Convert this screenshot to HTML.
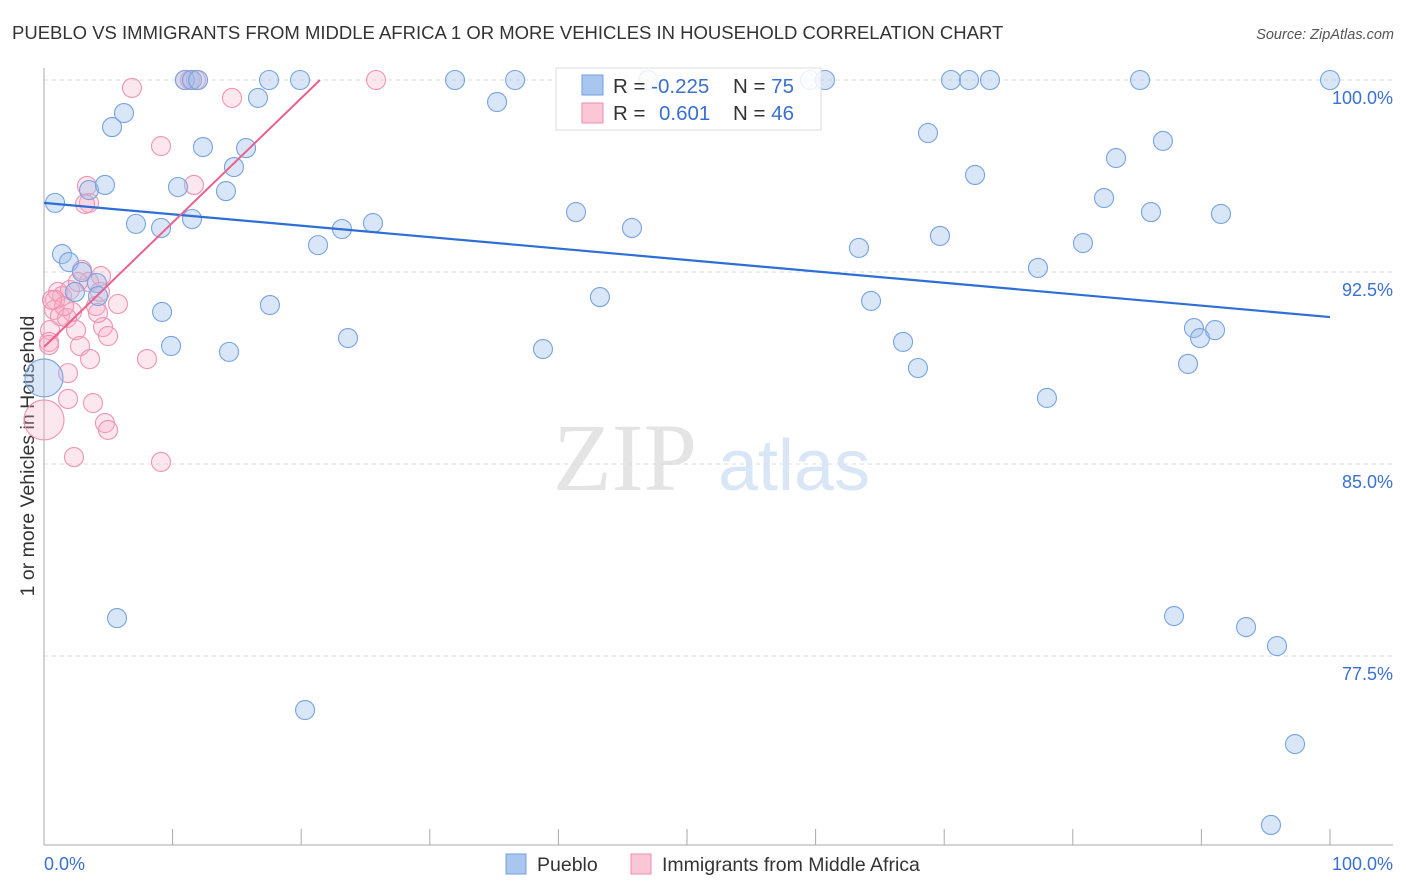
<!DOCTYPE html>
<html><head><meta charset="utf-8"><style>
body{margin:0;background:#fff;font-family:"Liberation Sans",sans-serif}
svg{display:block}
</style></head><body>
<svg id="chart" width="1406" height="892">
<text x="12" y="39" font-size="18.5" fill="#333">PUEBLO VS IMMIGRANTS FROM MIDDLE AFRICA 1 OR MORE VEHICLES IN HOUSEHOLD CORRELATION CHART</text>
<text x="1394" y="39" font-size="14.5" fill="#555" font-style="italic" text-anchor="end">Source: ZipAtlas.com</text>
<text transform="translate(34,456) rotate(-90)" font-size="19.5" fill="#333" text-anchor="middle">1 or more Vehicles in Household</text>
<g>
<text x="553" y="490" font-family="Liberation Serif,serif" font-size="96" fill="#e4e4e4">ZIP</text>
<text x="718" y="490" font-size="72" fill="#d9e6f6">atlas</text>
</g>
<g id="grid"></g><g id="axes"></g><g id="pts"></g><g id="trend"></g>
<g>
<rect x="556" y="68" width="265" height="62" fill="#fff" fill-opacity="0.85" stroke="#ddd"/>
<rect x="582" y="75" width="21" height="20" fill="#a9c6ef" stroke="#6f9fe0"/>
<rect x="582" y="103" width="21" height="20" fill="#fbc6d5" stroke="#ee8fae"/>
<text x="613" y="93" font-size="20.5" fill="#333">R = <tspan fill="#3a70cf">-0.225</tspan></text>
<text x="733" y="93" font-size="20.5" fill="#333">N = <tspan fill="#3a70cf">75</tspan></text>
<text x="613" y="120" font-size="20.5" fill="#333">R = </text>
<text x="659" y="120" font-size="20.5" fill="#3a70cf">0.601</text>
<text x="733" y="120" font-size="20.5" fill="#333">N = <tspan fill="#3a70cf">46</tspan></text>
</g>
<g>
<rect x="506" y="854" width="20" height="20" fill="#a9c6ef" stroke="#6f9fe0"/>
<text x="537" y="871" font-size="19.5" fill="#333">Pueblo</text>
<rect x="631" y="854" width="20" height="20" fill="#fbc6d5" stroke="#ee8fae"/>
<text x="662" y="871" font-size="19.5" fill="#333">Immigrants from Middle Africa</text>
</g>
</svg>
<script>
const yTicks=[100,92.5,85,77.5];
const yTickLabels=["100.0%","92.5%","85.0%","77.5%"];
const xTicks=[0,10,20,30,40,50,60,70,80,90,100];
const blueX=[0.86,1.40,1.94,2.41,2.95,3.50,4.12,4.20,4.74,5.29,6.22,7.15,9.10,9.18,9.88,10.42,10.96,11.51,11.98,11.51,12.36,14.15,14.39,14.77,15.71,16.64,17.50,17.57,19.91,20.30,21.31,23.17,23.64,25.58,31.96,35.23,36.63,38.80,41.37,43.23,45.72,46.97,59.56,60.73,63.37,64.31,66.80,67.96,68.74,69.67,70.53,71.93,72.40,73.56,77.29,77.99,80.79,82.43,83.36,85.23,86.08,87.01,87.87,88.96,89.42,89.89,91.06,91.52,93.47,95.88,97.28,95.41,100,5.68,0];
const blueY=[95.20,93.20,92.89,91.72,92.50,95.70,92.07,91.56,95.90,98.16,98.71,94.38,94.22,90.94,89.61,95.82,100,100,100,94.57,97.38,95.66,89.38,96.60,97.34,99.30,100,91.21,100,75.39,93.55,94.18,89.92,94.41,100,99.14,100,89.49,94.84,91.52,94.22,100,100,100,93.44,91.37,89.77,88.75,97.93,93.91,100,100,96.29,100,92.66,87.58,93.63,95.39,96.95,100,94.84,97.62,79.06,88.91,90.31,89.92,90.23,94.77,78.63,77.89,74.06,70.90,100,78.98,88.36];
const pinkX=[10.96,11.35,11.82,25.82,6.84,14.62,9.10,11.66,3.34,3.50,3.19,2.95,4.43,3.50,1.09,1.40,2.02,0.86,0.78,1.24,2.18,1.79,4.04,5.75,0.47,2.49,4.59,4.98,0.39,2.80,3.58,8.01,1.87,1.87,3.81,4.74,4.98,2.33,9.10,0,0.39,1.56,2.64,4.35,0.62,4.20];
const pinkY=[100,100,100,100,99.69,99.30,97.42,95.90,95.86,95.20,95.16,92.58,92.34,92.11,91.72,91.56,91.80,91.41,91.02,90.78,90.94,90.70,91.17,91.25,90.23,90.23,90.35,90.00,89.77,89.61,89.10,89.10,88.55,87.54,87.38,86.60,86.33,85.27,85.08,86.72,89.65,91.17,92.11,91.72,91.41,90.90];
const blueBig=[74];const pinkBig=[39];
const blueTrend=[[0,95.2],[100,90.74]];
const pinkTrend=[[0,89.57],[21.46,100]];
const NS="http://www.w3.org/2000/svg";
const xs=v=>44+v*12.86, ys=v=>80+(100-v)*25.6;
function mk(t,a,p){const e=document.createElementNS(NS,t);for(const k in a)e.setAttribute(k,a[k]);document.getElementById(p).appendChild(e);return e;}
yTicks.forEach((t,i)=>{
 const l=mk('line',{x1:44,x2:1393,y1:ys(t),y2:ys(t),stroke:'#ddd','stroke-dasharray':'4,4'},'grid');
 
 
 const tx=mk('text',{x:1393,y:ys(t)+24,'font-size':18,fill:'#3a70cf','text-anchor':'end'},'grid');
 tx.textContent=yTickLabels[i];
 
 
});
let a=mk('line',{x1:44,x2:44,y1:68,y2:845,stroke:'#aaa'},'axes');

a=mk('line',{x1:44,x2:1393,y1:845,y2:845,stroke:'#aaa'},'axes');

xTicks.forEach(t=>{const l=mk('line',{x1:xs(t),x2:xs(t),y1:829,y2:845,stroke:'#aaa'},'axes');
 
 });
let xl=mk('text',{x:44,y:870,'font-size':18,fill:'#3a70cf'},'axes');xl.textContent='0.0%';

xl=mk('text',{x:1393,y:870,'font-size':18,fill:'#3a70cf','text-anchor':'end'},'axes');xl.textContent='100.0%';

pinkX.forEach((x,i)=>{const c=mk('circle',{cx:xs(x),cy:ys(pinkY[i]),r:pinkBig.includes(i)?20:9.5,fill:'rgba(248,175,198,0.3)',stroke:'#ef93b1','stroke-width':1.1},'pts');
 
 });
blueX.forEach((x,i)=>{const c=mk('circle',{cx:xs(x),cy:ys(blueY[i]),r:blueBig.includes(i)?19:9.5,fill:'rgba(160,193,236,0.4)',stroke:'#76a3e0','stroke-width':1.1},'pts');
 
 });
let t=mk('line',{x1:xs(blueTrend[0][0]),y1:ys(blueTrend[0][1]),x2:xs(blueTrend[1][0]),y2:ys(blueTrend[1][1]),stroke:'#2d6fd6','stroke-width':2.2},'trend');

t=mk('line',{x1:xs(pinkTrend[0][0]),y1:ys(pinkTrend[0][1]),x2:xs(pinkTrend[1][0]),y2:ys(pinkTrend[1][1]),stroke:'#e8628d','stroke-width':2},'trend');

</script>
</body></html>
